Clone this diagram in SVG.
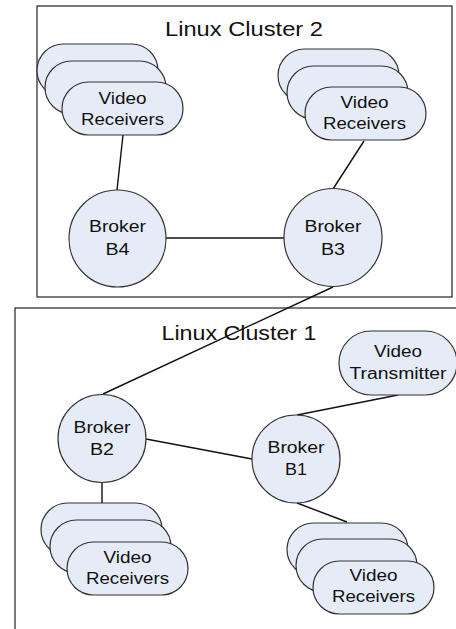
<svg xmlns="http://www.w3.org/2000/svg" width="456" height="629" viewBox="0 0 456 629">
<style>
.cl{fill:#ffffff;stroke:#333333;stroke-width:1.3}
.nd{fill:#e6ecf7;stroke:#333333;stroke-width:1.2}
.ln{stroke:#111111;stroke-width:1.4;fill:none}
text{font-family:"Liberation Sans",Arial,sans-serif;fill:#111111;text-anchor:middle}
.t{font-size:21px}
.l{font-size:16px}
.b{font-size:17px}
</style>
<rect width="456" height="629" fill="#ffffff"/>
<g id="cluster2">
<rect class="cl" x="37" y="6" width="415" height="291"/>
<text class="t" x="244" y="36" textLength="158" lengthAdjust="spacingAndGlyphs">Linux Cluster 2</text>
</g>
<g id="cluster1">
<rect class="cl" x="15" y="308" width="460" height="340"/>
<text class="t" x="239" y="340" textLength="155" lengthAdjust="spacingAndGlyphs">Linux Cluster 1</text>
</g>
<g id="connectors">
<line class="ln" x1="123" y1="135" x2="117" y2="190"/>
<line class="ln" x1="166" y1="238" x2="284" y2="238"/>
<line class="ln" x1="364" y1="141" x2="333" y2="189"/>
<line class="ln" x1="333" y1="287" x2="103" y2="394"/>
<line class="ln" x1="146" y1="439" x2="252" y2="459"/>
<line class="ln" x1="297" y1="415" x2="398" y2="395"/>
<line class="ln" x1="102" y1="483" x2="102" y2="503"/>
<line class="ln" x1="297" y1="503" x2="347" y2="522"/>
</g>
<g id="receivers-c2-left">
<rect class="nd" x="37" y="44" width="121" height="53" rx="26.5"/>
<rect class="nd" x="45" y="61" width="121" height="53" rx="26.5"/>
<rect class="nd" x="62" y="82" width="121" height="53" rx="26.5"/>
<text class="l" x="122.5" y="104" textLength="48" lengthAdjust="spacingAndGlyphs">Video</text>
<text class="l" x="122.5" y="125" textLength="83" lengthAdjust="spacingAndGlyphs">Receivers</text>
</g>
<g id="receivers-c2-right">
<rect class="nd" x="278" y="49" width="121" height="53" rx="26.5"/>
<rect class="nd" x="287" y="66" width="121" height="53" rx="26.5"/>
<rect class="nd" x="305" y="87" width="121" height="53" rx="26.5"/>
<text class="l" x="364.5" y="108" textLength="48" lengthAdjust="spacingAndGlyphs">Video</text>
<text class="l" x="364.5" y="129" textLength="83" lengthAdjust="spacingAndGlyphs">Receivers</text>
</g>
<g id="broker-b4">
<circle class="nd" cx="117.5" cy="238.5" r="48.5"/>
<text class="b" x="117.5" y="232" textLength="57" lengthAdjust="spacingAndGlyphs">Broker</text>
<text class="b" x="117.5" y="255" textLength="24" lengthAdjust="spacingAndGlyphs">B4</text>
</g>
<g id="broker-b3">
<circle class="nd" cx="333" cy="237.5" r="49"/>
<text class="b" x="333" y="232" textLength="57" lengthAdjust="spacingAndGlyphs">Broker</text>
<text class="b" x="333" y="255" textLength="24" lengthAdjust="spacingAndGlyphs">B3</text>
</g>
<g id="video-transmitter">
<rect class="nd" x="339" y="331" width="118" height="64" rx="32"/>
<text class="l" x="398" y="357" textLength="48" lengthAdjust="spacingAndGlyphs">Video</text>
<text class="l" x="398" y="379" textLength="97" lengthAdjust="spacingAndGlyphs">Transmitter</text>
</g>
<g id="broker-b2">
<circle class="nd" cx="102" cy="438.5" r="44"/>
<text class="b" x="102" y="433" textLength="57" lengthAdjust="spacingAndGlyphs">Broker</text>
<text class="b" x="102" y="455" textLength="24" lengthAdjust="spacingAndGlyphs">B2</text>
</g>
<g id="broker-b1">
<circle class="nd" cx="296" cy="459" r="44"/>
<text class="b" x="296" y="453" textLength="57" lengthAdjust="spacingAndGlyphs">Broker</text>
<text class="b" x="296" y="475" textLength="22" lengthAdjust="spacingAndGlyphs">B1</text>
</g>
<g id="receivers-c1-left">
<rect class="nd" x="41" y="503" width="121" height="53" rx="26.5"/>
<rect class="nd" x="50" y="520" width="121" height="53" rx="26.5"/>
<rect class="nd" x="67" y="542" width="121" height="53" rx="26.5"/>
<text class="l" x="127.5" y="563" textLength="48" lengthAdjust="spacingAndGlyphs">Video</text>
<text class="l" x="127.5" y="584" textLength="83" lengthAdjust="spacingAndGlyphs">Receivers</text>
</g>
<g id="receivers-c1-right">
<rect class="nd" x="287" y="523" width="121" height="53" rx="26.5"/>
<rect class="nd" x="296" y="539" width="121" height="53" rx="26.5"/>
<rect class="nd" x="313" y="561" width="121" height="53" rx="26.5"/>
<text class="l" x="373.5" y="581" textLength="48" lengthAdjust="spacingAndGlyphs">Video</text>
<text class="l" x="373.5" y="602" textLength="83" lengthAdjust="spacingAndGlyphs">Receivers</text>
</g>
</svg>
